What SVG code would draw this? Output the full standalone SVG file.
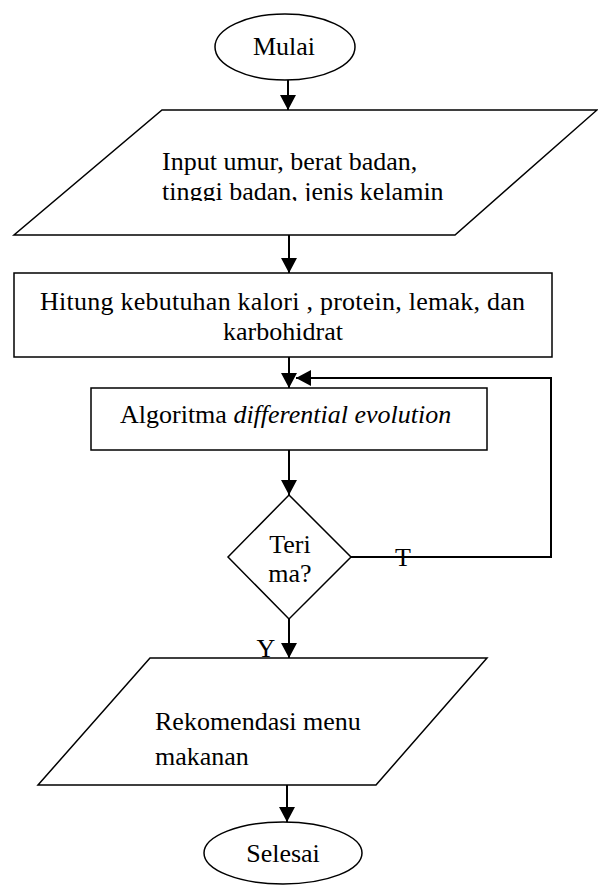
<svg xmlns="http://www.w3.org/2000/svg" width="598" height="890" viewBox="0 0 598 890">
<style>
.s{fill:#fff;stroke:#000;stroke-width:1.5}
.t{font-family:"Liberation Serif","Times New Roman",serif;font-size:26px;fill:#000}
.c{fill:none;stroke:#000;stroke-width:2}
</style>
<defs>
<marker id="ah" markerWidth="16" markerHeight="16" viewBox="0 0 16 16" refX="15" refY="8" orient="auto" markerUnits="userSpaceOnUse">
<path d="M0,0 L15,8 L0,16 Z" fill="#000"/>
</marker>
<clipPath id="clip1"><rect x="0" y="110" width="598" height="91"/></clipPath>
</defs>
<rect width="598" height="890" fill="#fff"/>
<g id="connectors">
<line class="c" x1="288" y1="80" x2="288" y2="110" marker-end="url(#ah)"/>
<line class="c" x1="289" y1="235" x2="289" y2="273" marker-end="url(#ah)"/>
<line class="c" x1="289" y1="357" x2="289" y2="388" marker-end="url(#ah)"/>
<polyline class="c" points="351,557 551,557 551,378 296,378" marker-end="url(#ah)"/>
<line class="c" x1="289" y1="450" x2="289" y2="495" marker-end="url(#ah)"/>
<line class="c" x1="289" y1="619" x2="289" y2="658" marker-end="url(#ah)"/>
<line class="c" x1="287" y1="785" x2="287" y2="822" marker-end="url(#ah)"/>
<text class="t" x="403" y="566" text-anchor="middle">T</text>
<text class="t" x="266" y="657" text-anchor="middle">Y</text>
</g>
<g id="mulai">
<ellipse class="s" cx="285" cy="47" rx="70" ry="33"/>
<text class="t" x="284" y="55" text-anchor="middle" font-size="25">Mulai</text>
</g>
<g id="input">
<polygon class="s" points="162,110 597,110 455,235 14,235"/>
<g clip-path="url(#clip1)">
<text class="t" x="162" y="170" font-size="26.5">Input umur, berat badan,</text>
<text class="t" x="162" y="200" font-size="26.5">tinggi badan, jenis kelamin</text>
</g>
</g>
<g id="hitung">
<rect class="s" x="14" y="273" width="538" height="84"/>
<text class="t" x="40" y="310" textLength="485" lengthAdjust="spacing">Hitung kebutuhan kalori , protein, lemak, dan</text>
<text class="t" x="283" y="340" text-anchor="middle">karbohidrat</text>
</g>
<g id="algoritma">
<rect class="s" x="91" y="388" width="396" height="62"/>
<text class="t" x="120" y="423">Algoritma <tspan font-style="italic">differential evolution</tspan></text>
</g>
<g id="terima">
<polygon class="s" points="289,495 351,557 289,619 228,557"/>
<text class="t" x="290" y="553" text-anchor="middle" font-size="23">Teri</text>
<text class="t" x="290" y="582" text-anchor="middle" font-size="23">ma?</text>
</g>
<g id="rekomendasi">
<polygon class="s" points="150,658 487,658 376,785 38,785"/>
<text class="t" x="155" y="730">Rekomendasi menu</text>
<text class="t" x="155" y="765">makanan</text>
</g>
<g id="selesai">
<ellipse class="s" cx="283" cy="853" rx="79" ry="31"/>
<text class="t" x="283" y="862" text-anchor="middle" font-size="25">Selesai</text>
</g>
</svg>
